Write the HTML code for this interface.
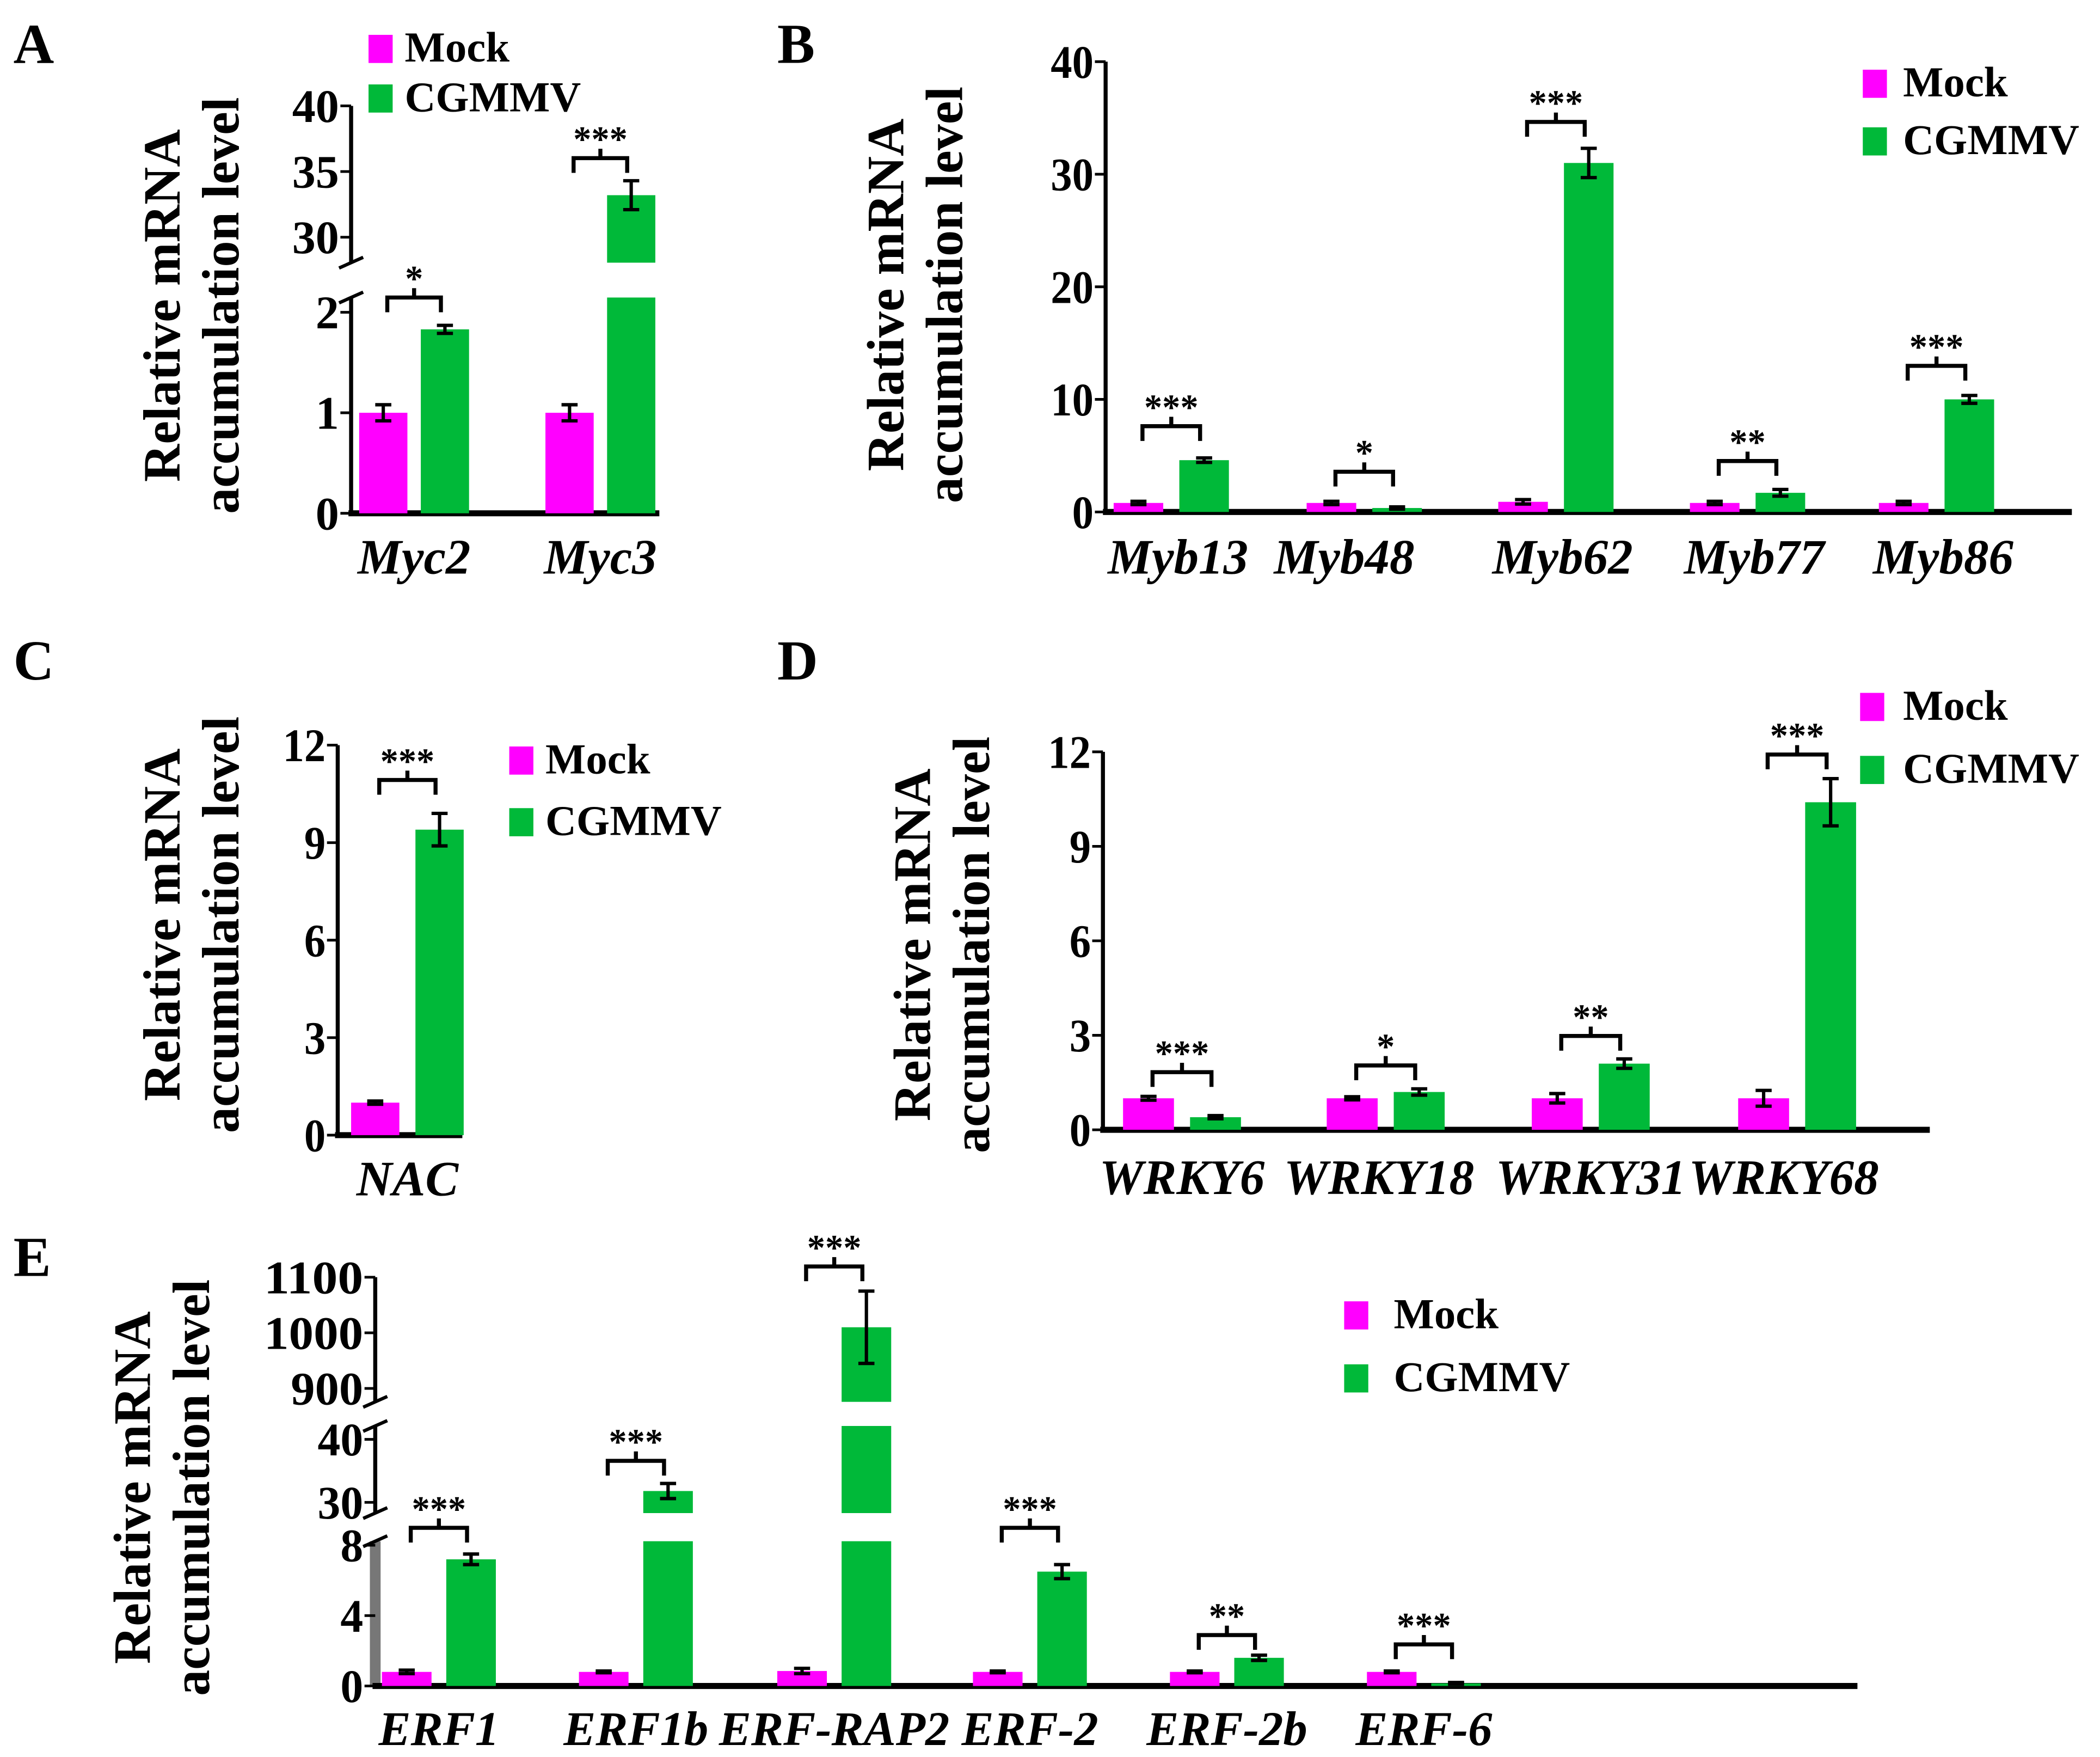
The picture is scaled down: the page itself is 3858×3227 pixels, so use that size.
<!DOCTYPE html>
<html><head><meta charset="utf-8"><style>
html,body{margin:0;padding:0;background:#fff;}
svg{display:block;}
text{font-family:"Liberation Serif",serif;font-weight:bold;fill:#000;}
</style></head><body>
<svg id="fig" width="3858" height="3227" viewBox="0 0 1567 1311" preserveAspectRatio="none" xmlns="http://www.w3.org/2000/svg"></svg>
<script>
// ---------- data ----------
const aGenes=["Myc2","Myc3"];
const aMock=[1.0,1.0];
const aMockErr=[0.08,0.08];
const aCg=[1.83,33.2];
const aCgErr=[0.04,1.1];
const aSig=["*","***"];

const bGenes=["Myb13","Myb48","Myb62","Myb77","Myb86"];
const bMock=[0.8,0.8,0.9,0.8,0.8];
const bMockErr=[0.15,0.15,0.2,0.15,0.15];
const bCg=[4.6,0.35,31.0,1.7,10.0];
const bCgErr=[0.2,0.1,1.3,0.3,0.35];
const bSig=["***","*","***","**","***"];
const bTicks=[0,10,20,30,40];

const cGenes=["NAC"];
const cMock=[1.0];
const cMockErr=[0.05];
const cCg=[9.4];
const cCgErr=[0.5];
const cSig=["***"];
const cdTicks=[0,3,6,9,12];

const dGenes=["WRKY6","WRKY18","WRKY31","WRKY68"];
const dMock=[1.0,1.0,1.0,1.0];
const dMockErr=[0.06,0.05,0.15,0.25];
const dCg=[0.4,1.2,2.1,10.4];
const dCgErr=[0.05,0.1,0.15,0.75];
const dSig=["***","*","**","***"];

const eGenes=["ERF1","ERF1b","ERF-RAP2","ERF-2","ERF-2b","ERF-6"];
const eMock=[0.8,0.8,0.85,0.8,0.8,0.8];
const eMockErr=[0.1,0.05,0.15,0.05,0.05,0.05];
const eCg=[7.2,31.8,1010,6.5,1.6,0.15];
const eCgErr=[0.3,1.2,65,0.4,0.15,0.05];
const eSig=["***","***","***","***","**","***"];

// ---------- helpers ----------
const NS="http://www.w3.org/2000/svg";
const svg=document.getElementById('fig');
function mk(tag,attrs,parent){const e=document.createElementNS(NS,tag);for(const k in attrs)e.setAttribute(k,attrs[k]);(parent||svg).appendChild(e);return e;}
function txt(s,x,y,size,anchor,parent,extra){const t=mk('text',Object.assign({x:x,y:y,'font-size':size,'text-anchor':anchor||'start'},extra||{}),parent);t.textContent=s;return t;}
const MAG="#ff00ff", GRN="#00b939";

function drawPanel(p){
  const g=mk('g',{});
  
  
  function yOf(v){for(const s of p.segs){if(v<=s.vmax){return s.y0-(v-s.v0)*(s.y0-s.y1)/(s.v1-s.v0);}}const s=p.segs[p.segs.length-1];return s.y0-(v-s.v0)*(s.y0-s.y1)/(s.v1-s.v0);}
  p.segs.forEach((s,i)=>{
    const ax=mk('line',{x1:p.ax,x2:p.ax,y1:s.bot,y2:s.top,stroke:s.color||'#000','stroke-width':s.w||3},g);
    
    
    if(p.segs.length>1){
      if(i>0)mk('line',{x1:p.ax-9,y1:s.bot+4,x2:p.ax+9,y2:s.bot-4,stroke:'#000','stroke-width':2.5},g);
      if(i<p.segs.length-1)mk('line',{x1:p.ax-9,y1:s.top+4,x2:p.ax+9,y2:s.top-4,stroke:'#000','stroke-width':2.5},g);
    }
  });
  p.ticks.forEach(v=>{
    const y=yOf(v);
    mk('line',{x1:p.ax-8,x2:p.ax,y1:y,y2:y,stroke:'#000','stroke-width':2},g);
    const t=txt(String(v),p.ax-9,y+12,p.tickSize||35,'end',g,p.tickCond?{'textLength':p.tickCond(v),'lengthAdjust':'spacingAndGlyphs'}:{});
    
    
  });
  const base=mk('line',{x1:p.ax-2,x2:p.axEnd,y1:yOf(0),y2:yOf(0),stroke:'#000','stroke-width':4.5},g);
  
  
  p.genes.forEach((gn,i)=>{
    const series=[[p.mock[i],p.mockErr[i],p.mx[i],MAG,'bar-mock-'+gn],[p.cg[i],p.cgErr[i],p.mx[i]+p.off,GRN,'bar-cgmmv-'+gn]];
    series.forEach(([v,e,x,col,nm])=>{
      const bw=p.bw;
      p.segs.forEach((s)=>{
        if(v<s.v0)return;
        const ytop=Math.max(yOf(v),s.top);
        const ybot=s.bot;
        const r=mk('rect',{x:x,y:ytop,width:bw,height:Math.max(0,ybot-ytop),fill:col},g);
        
        
      });
      const y1=yOf(v+e), y2=yOf(Math.max(0,v-e));
      const cx=x+bw/2;
      mk('line',{x1:cx,x2:cx,y1:y1,y2:y2,stroke:'#000','stroke-width':2.5},g);
      mk('line',{x1:cx-6,x2:cx+6,y1:y1,y2:y1,stroke:'#000','stroke-width':2.5},g);
      mk('line',{x1:cx-6,x2:cx+6,y1:y2,y2:y2,stroke:'#000','stroke-width':2.5},g);
    });
    const bx1=p.mx[i]+p.bw/2+p.brIn, bx2=p.mx[i]+p.off+p.bw/2-p.brIn;
    const by=p.brY[i];
    const br=mk('path',{d:`M${bx1},${by+11} L${bx1},${by} L${bx2},${by} L${bx2},${by+11} M${(bx1+bx2)/2},${by} L${(bx1+bx2)/2},${by-7}`,fill:'none',stroke:'#000','stroke-width':3},g);
    
    
    const st=txt(p.sig[i],(bx1+bx2)/2,by-5,27,'middle',g);
    
    
    const xl=txt(gn,p.mx[i]+(p.off+p.bw)/2+(p.lblDx?p.lblDx[i]:0),p.lblY,p.lblSize||37,'middle',g,{'font-style':'italic'});
    
    
  });
  const tg=mk('g',{transform:`translate(${p.titleX},${p.titleY}) rotate(-90)`},g);
  const t1=txt('Relative mRNA',0,0,39,'middle',tg);
  
  
  const t2=txt('accumulation level',0,44,39,'middle',tg);
  
  
  const lg=mk('g',{},g);
  
  
  [[MAG,'Mock',0],[GRN,'CGMMV',1]].forEach(([c,l,k])=>{
    const yy=p.legY+k*p.legDy;
    const sq=mk('rect',{x:p.legX,y:yy-20,width:18,height:21,fill:c},lg);
    
    
    const lt=txt(l,p.legX+(p.legGap||27),yy,32,'start',lg);
    
    
  });
  const pl=txt(p.letter,p.lx,p.ly,42,'start',g);
  
  
}

drawPanel({name:'panel-a',letter:'A',lx:10,ly:47,ax:262,axEnd:492,
  segs:[{v0:0,v1:2,y0:383,y1:233,vmax:2.3,top:222,bot:383},{v0:30,v1:40,y0:177,y1:79,vmax:1e9,top:79,bot:196}],
  ticks:[0,1,2,30,35,40],genes:aGenes,mock:aMock,mockErr:aMockErr,cg:aCg,cgErr:aCgErr,sig:aSig,
  mx:[268,407],off:46,bw:36,brIn:3,brY:[222,118],lblY:428,titleX:134,titleY:228,legX:275,legY:46,legDy:37});

drawPanel({name:'panel-b',letter:'B',lx:580,ly:47,ax:825,axEnd:1546,tickCond:(v)=>v>=10?32:16,
  segs:[{v0:0,v1:40,y0:382,y1:46,vmax:1e9,top:46,bot:382}],
  ticks:bTicks,genes:bGenes,mock:bMock,mockErr:bMockErr,cg:bCg,cgErr:bCgErr,sig:bSig,
  mx:[831,975,1118,1261,1402],off:49,bw:37,brIn:3,brY:[318,352,91,344,273],lblY:428,lblDx:[5,-15,5,5,5],
  titleX:674,titleY:220,legX:1390,legY:72,legDy:43,legGap:30});

drawPanel({name:'panel-c',letter:'C',lx:10,ly:507,ax:252,axEnd:345,tickCond:(v)=>v>=10?32:16,
  segs:[{v0:0,v1:12,y0:847,y1:556,vmax:1e9,top:556,bot:847}],
  ticks:cdTicks,genes:cGenes,mock:cMock,mockErr:cMockErr,cg:cCg,cgErr:cCgErr,sig:cSig,
  mx:[262],off:48,bw:36,brIn:3,brY:[582],lblY:892,titleX:134,titleY:690,legX:380,legY:577,legDy:46});

drawPanel({name:'panel-d',letter:'D',lx:580,ly:507,ax:823,axEnd:1440,tickCond:(v)=>v>=10?32:16,
  segs:[{v0:0,v1:12,y0:843,y1:561,vmax:1e9,top:561,bot:843}],
  ticks:cdTicks,genes:dGenes,mock:dMock,mockErr:dMockErr,cg:dCg,cgErr:dCgErr,sig:dSig,
  mx:[838,990,1143,1297],off:50,bw:38,brIn:3,brY:[800,795,773,563],lblY:891,lblDx:[0,-5,0,-10],
  titleX:694,titleY:705,legX:1388,legY:537,legDy:47,legGap:32});

drawPanel({name:'panel-e',letter:'E',lx:10,ly:952,ax:280,axEnd:1386,
  segs:[{v0:0,v1:8,y0:1258,y1:1153,vmax:9,top:1150,bot:1258,color:'#777',w:8},
        {v0:30,v1:40,y0:1121,y1:1074,vmax:45,top:1064,bot:1129},
        {v0:900,v1:1100,y0:1036,y1:953,vmax:1e9,top:953,bot:1046}],
  ticks:[0,4,8,30,40,900,1000,1100],genes:eGenes,mock:eMock,mockErr:eMockErr,cg:eCg,cgErr:eCgErr,sig:eSig,
  tickCond:(v)=>v>=900?(v>=1000?74:54):(v>=10?34:17),
  mx:[285,432,580,726,873,1020],off:48,bw:37,brIn:3,brY:[1140,1090,945,1140,1220,1227],lblY:1302,lblSize:36,
  titleX:112,titleY:1110,legX:1003,legY:991,legDy:47,legGap:37});
</script>
</body></html>
